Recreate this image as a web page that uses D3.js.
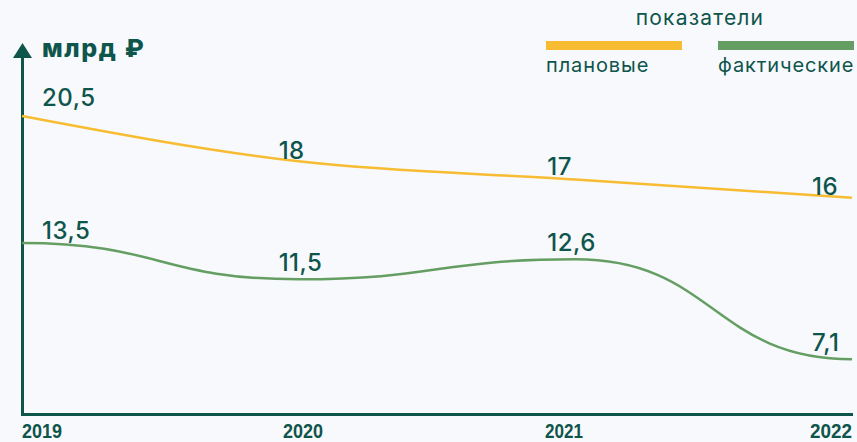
<!DOCTYPE html>
<html><head><meta charset="utf-8">
<script src="https://cdn.jsdelivr.net/npm/d3@7"></script>
<style>
html,body{margin:0;padding:0;background:#f8f9fd;}
svg{display:block;}
</style></head>
<body>
<svg id="c" width="857" height="442"></svg>
<script>
const years = ["2019","2020","2021","2022"];
const planned = [20.5, 18, 17, 16];
const actual = [13.5, 11.5, 12.6, 7.1];
const plannedLabels = ["20,5","18","17","16"];
const actualLabels = ["13,5","11,5","12,6","7,1"];
const legendTitle = "показатели";
const seriesNames = ["плановые","фактические"];
const unitLabel = "млрд ₽";

const teal = "#0e554b", yellow = "#f7bc32", green = "#659e63";
const svg = d3.select("#c");
const x = d3.scalePoint().domain(years).range([22, 852]);
const y = d3.scaleLinear().domain([0, 20.5]).range([488, 116]);

const linePlan = d3.line().x((d,i)=>x(years[i])).y(d=>y(d)).curve(d3.curveMonotoneX);
const lineAct = d3.line().x((d,i)=>x(years[i])).y(d=>y(d)).curve(d3.curveBumpX);

// axes
svg.append("line").attr("x1",22.5).attr("x2",22.5).attr("y1",55).attr("y2",416)
  .attr("stroke",teal).attr("stroke-width",3);
svg.append("path").attr("d","M13,58 L22.5,43 L32,58 Z").attr("fill",teal);
svg.append("line").attr("x1",21).attr("x2",853).attr("y1",414.5).attr("y2",414.5)
  .attr("stroke",teal).attr("stroke-width",3);

// year labels
const yearX = [22, 283, 545, 810];
const yearW = [40, 40, 38, 42];
svg.selectAll(".yr").data(years).enter().append("text")
  .attr("x",(d,i)=>yearX[i]).attr("y",437.5)
  .attr("textLength",(d,i)=>yearW[i]).attr("lengthAdjust","spacingAndGlyphs")
  .attr("font-family","'Liberation Sans',Arial,sans-serif")
  .attr("font-weight",700).attr("font-size",20.5).attr("fill",teal).text(d=>d);

// lines
svg.append("path").attr("d",linePlan(planned)).attr("fill","none").attr("stroke",yellow).attr("stroke-width",2.5);
svg.append("path").attr("d",lineAct(actual)).attr("fill","none").attr("stroke",green).attr("stroke-width",2.5);

// value labels
const lblOffX = [20, -20, -28, -40];
const lblFont = "Inter, 'Noto Sans', sans-serif";
function labels(vals, txt, dy){
  svg.selectAll(null).data(vals).enter().append("text")
    .attr("x",(d,i)=>x(years[i])+lblOffX[i])
    .attr("y",(d,i)=>y(d)+dy[i])
    .attr("font-family",lblFont).attr("font-weight",500).attr("font-size",24)
    .attr("letter-spacing",0.5)
    .attr("fill",teal).text((d,i)=>txt[i]);
}
labels(planned, plannedLabels, [-10,-2,-5,-3]);
labels(actual, actualLabels, [-4, -8, -8, -8]);

// unit label
svg.append("text").attr("x",42).attr("y",57).attr("font-family",lblFont)
  .attr("font-weight",800).attr("font-size",25).attr("letter-spacing",1.6)
  .attr("fill",teal).text(unitLabel);

// legend
svg.append("text").attr("x",700).attr("y",25).attr("text-anchor","middle")
  .attr("font-family",lblFont).attr("font-size",21).attr("letter-spacing",1.2)
  .attr("fill",teal).text(legendTitle);
const legX = [546, 718];
const legC = [yellow, green];
seriesNames.forEach((n,i)=>{
  svg.append("rect").attr("x",legX[i]).attr("y",41).attr("width",136).attr("height",9).attr("fill",legC[i]);
  svg.append("text").attr("x",legX[i]).attr("y",72).attr("font-family",lblFont)
    .attr("font-size",20).attr("letter-spacing",0.9).attr("fill",teal).text(n);
});
</script>
</body></html>
